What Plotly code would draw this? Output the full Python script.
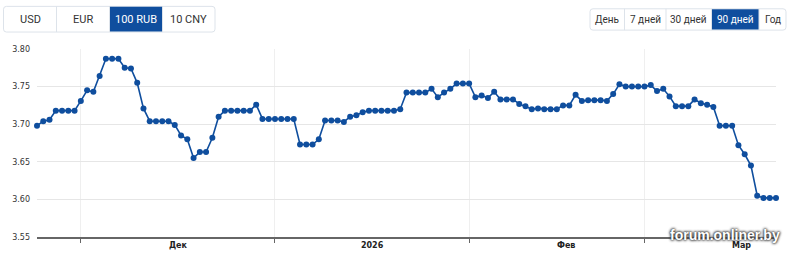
import plotly.graph_objects as go
import pandas as pd

# ---------------- data ----------------
start_date = "2025-11-24"
rates = [
    3.698, 3.704, 3.706, 3.718, 3.718, 3.718, 3.718, 3.731, 3.745, 3.743,
    3.764, 3.787, 3.787, 3.787, 3.775, 3.774, 3.755, 3.721, 3.704, 3.704,
    3.704, 3.704, 3.699, 3.685, 3.680, 3.655, 3.663, 3.663, 3.682, 3.710,
    3.718, 3.718, 3.718, 3.718, 3.718, 3.726, 3.707, 3.707, 3.707, 3.707,
    3.707, 3.707, 3.673, 3.673, 3.673, 3.680, 3.705, 3.705, 3.705, 3.703,
    3.710, 3.712, 3.716, 3.718, 3.718, 3.718, 3.718, 3.718, 3.720, 3.742,
    3.742, 3.742, 3.742, 3.747, 3.736, 3.742, 3.747, 3.754, 3.754, 3.754,
    3.736, 3.738, 3.735, 3.743, 3.733, 3.733, 3.733, 3.727, 3.724, 3.720,
    3.721, 3.720, 3.720, 3.720, 3.725, 3.725, 3.739, 3.731, 3.732, 3.732,
    3.732, 3.731, 3.740, 3.753, 3.750, 3.750, 3.750, 3.750, 3.752, 3.744,
    3.747, 3.737, 3.724, 3.724, 3.724, 3.733, 3.728, 3.726, 3.723, 3.698,
    3.698, 3.698, 3.672, 3.660, 3.645, 3.605, 3.602, 3.602, 3.602,
]
dates = pd.date_range(start_date, periods=len(rates), freq="D")

month_starts = ["2025-12-01", "2026-01-01", "2026-02-01", "2026-03-01"]
month_label_pos = ["2025-12-16 12:00", "2026-01-16 12:00", "2026-02-16 12:00", "2026-03-16 12:00"]
month_labels = ["Дек", "<b>2026</b>", "Фев", "Мар"]
y_ticks = [3.55, 3.60, 3.65, 3.70, 3.75, 3.80]

currency_buttons = ["USD", "EUR", "100 RUB", "10 CNY"]
period_buttons = ["День", "7 дней", "30 дней", "90 дней", "Год"]

# ---------------- layout geometry ----------------
W, H = 800, 262
L, R, T, B = 37, 24, 49, 19
PW, PH = W - L - R, H - T - B
BLUE = "#0f4e9e"


def fx(px):
    return (px - L) / PW


def fy(py):
    return (H - B - py) / PH


def rrect_path(x0, y0, x1, y1, r):
    pts = [
        ("M", [(x0 + r, y0)]), ("L", [(x1 - r, y0)]), ("Q", [(x1, y0), (x1, y0 + r)]),
        ("L", [(x1, y1 - r)]), ("Q", [(x1, y1), (x1 - r, y1)]), ("L", [(x0 + r, y1)]),
        ("Q", [(x0, y1), (x0, y1 - r)]), ("L", [(x0, y0 + r)]), ("Q", [(x0, y0), (x0 + r, y0)]),
    ]
    s = ""
    for cmd, ps in pts:
        s += cmd + " " + " ".join(f"{fx(a):.5f},{fy(b):.5f}" for a, b in ps) + " "
    return s + "Z"


fig = go.Figure()
fig.add_trace(go.Scatter(
    x=dates, y=rates, mode="lines+markers",
    line=dict(color=BLUE, width=1.6),
    marker=dict(color=BLUE, size=6),
    cliponaxis=False, hoverinfo="x+y",
))

shapes, annotations = [], []


def button_group(labels, x_edges, y0, y1, active, size):
    shapes.append(dict(type="path", xref="paper", yref="paper",
                       path=rrect_path(x_edges[0], y0, x_edges[-1], y1, 3),
                       fillcolor="white", line=dict(color="#dde3ea", width=1), layer="above"))
    for i, lab in enumerate(labels):
        a, b = x_edges[i], x_edges[i + 1]
        if i == active:
            shapes.append(dict(type="rect", xref="paper", yref="paper",
                               x0=fx(a), x1=fx(b), y0=fy(y1 - 0.5), y1=fy(y0 + 0.5),
                               fillcolor=BLUE, line=dict(width=0), layer="above"))
        if i > 0:
            shapes.append(dict(type="line", xref="paper", yref="paper",
                               x0=fx(a), x1=fx(a), y0=fy(y1), y1=fy(y0),
                               line=dict(color="#dde3ea", width=1), layer="above"))
        annotations.append(dict(x=fx((a + b) / 2), y=fy((y0 + y1) / 2), xref="paper", yref="paper",
                                text=lab, showarrow=False, xanchor="center", yanchor="middle",
                                font=dict(family="Roboto", size=size,
                                          color="white" if i == active else "#333333")))


button_group(currency_buttons, [3.5, 56.5, 109.5, 162.5, 215], 5, 31.5, 2, 11)
button_group(period_buttons, [590, 624.5, 666, 711.5, 759, 786], 7.5, 29.5, 3, 10)

annotations.append(dict(x=fx(725), y=fy(241), xref="paper", yref="paper",
                        text="<b>forum.onliner.by</b>", showarrow=False,
                        xanchor="center", yanchor="middle",
                        font=dict(family="Arial", size=14, color="white",
                                  shadow="0 0 3px #333, 0 0 3px #333, 0 0 2px #555")))

fig.update_layout(
    width=W, height=H,
    margin=dict(l=L, r=R, t=T, b=B, pad=0),
    paper_bgcolor="white", plot_bgcolor="white",
    showlegend=False,
    shapes=shapes, annotations=annotations,
    xaxis=dict(
        type="date", range=[dates[0], dates[-1]],
        tickmode="array", tickvals=month_label_pos, ticktext=month_labels,
        ticks="", showgrid=False, zeroline=False,
        showline=True, linecolor="#666666", linewidth=1.5,
        tickfont=dict(family="DejaVu Sans", size=8, color="#222222", weight=600),
        minor=dict(tickmode="array", tickvals=month_starts, ticks="outside",
                   ticklen=4, tickcolor="#666666", tickwidth=1,
                   showgrid=True, gridcolor="#efefef", gridwidth=1),
        fixedrange=True,
    ),
    yaxis=dict(
        range=[3.55, 3.80], tickmode="array", tickvals=y_ticks, tickformat=".2f",
        showgrid=True, gridcolor="#e6e6e6", gridwidth=1.2, zeroline=False,
        showline=False, ticks="", ticklabelstandoff=6,
        tickfont=dict(family="DejaVu Sans", size=8, color="#333333"),
        fixedrange=True,
    ),
)

fig.write_html("out.html")
